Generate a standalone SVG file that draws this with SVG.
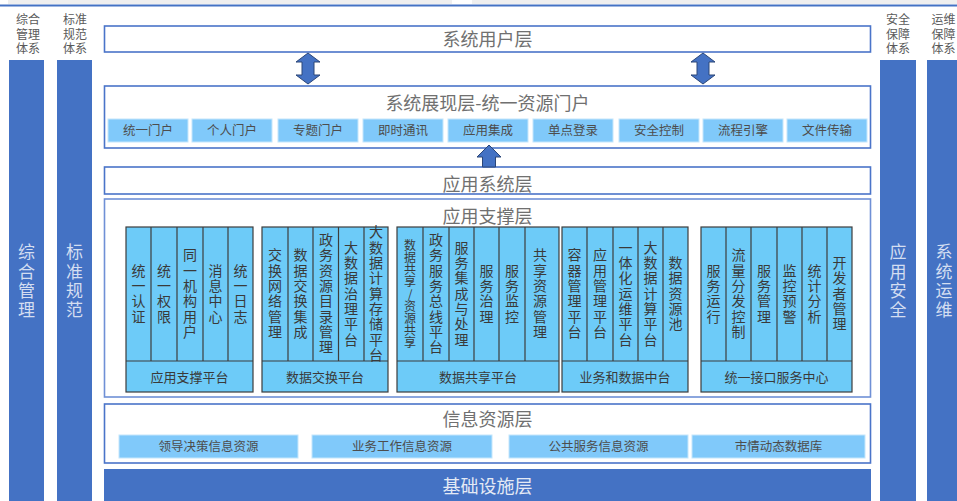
<svg xmlns="http://www.w3.org/2000/svg" width="957" height="501" viewBox="0 0 957 501">
<style>
.layer{fill:#fff;stroke:#4A74C9;stroke-width:1.6}
.pillar{fill:#4472C4}
.ptxt{font-family:"Noto Sans CJK SC","Noto Sans",sans-serif;font-size:17px;fill:#D4DEF1;text-anchor:middle;writing-mode:vertical-rl;letter-spacing:2.4px}
.hdr{font-family:"Liberation Sans","Noto Sans CJK SC",sans-serif;font-size:12px;fill:#5a5a5a;text-anchor:middle}
.title{font-family:"Noto Sans CJK SC","Noto Sans",sans-serif;font-size:18px;fill:#707070;text-anchor:middle}
.item{fill:#80C9FA;stroke:#C4E6FC;stroke-width:1}
.itxt{font-family:"Noto Sans CJK SC","Noto Sans",sans-serif;font-size:12.5px;fill:#4d4d4d;text-anchor:middle}
.grp{fill:#6DCBF8;stroke:#3d3d3d;stroke-width:1.2}
.div{stroke:#3d3d3d;stroke-width:1.2}
.ctxt{font-family:"Noto Sans CJK SC","Noto Sans",sans-serif;font-size:14px;fill:#3a3a3a;text-anchor:middle;writing-mode:vertical-rl;letter-spacing:1.3px}
.stxt{font-family:"Noto Sans CJK SC","Noto Sans",sans-serif;font-size:12px;fill:#3a3a3a;text-anchor:middle;writing-mode:vertical-rl;text-orientation:upright;letter-spacing:0.1px}
.btxt{font-family:"Noto Sans CJK SC","Noto Sans",sans-serif;font-size:13px;fill:#3a3a3a;text-anchor:middle}
.arrow{fill:#4472C4;stroke:#2B4678;stroke-width:1}
</style>
<rect x="0" y="0" width="957" height="501" fill="#fff"/>
<rect x="8" y="0" width="444" height="4" fill="#EFEFEF"/>
<rect x="472" y="0" width="485" height="4" fill="#EFEFEF"/>
<line x1="0" y1="5.5" x2="957" y2="5.5" stroke="#4472C4" stroke-width="2"/>

<g id="pillar-zhgl">
<text class="hdr" y="24"><tspan x="28">综合</tspan><tspan x="28" dy="14.7">管理</tspan><tspan x="28" dy="14.7">体系</tspan></text>
<rect class="pillar" x="9" y="60" width="35" height="441"/>
<text class="ptxt" x="26.5" y="282">综合管理</text>
</g>
<g id="pillar-bzgf">
<text class="hdr" y="24"><tspan x="75">标准</tspan><tspan x="75" dy="14.7">规范</tspan><tspan x="75" dy="14.7">体系</tspan></text>
<rect class="pillar" x="57" y="60" width="35" height="441"/>
<text class="ptxt" x="74.5" y="282">标准规范</text>
</g>
<g id="pillar-yyaq">
<text class="hdr" y="24"><tspan x="898">安全</tspan><tspan x="898" dy="14.7">保障</tspan><tspan x="898" dy="14.7">体系</tspan></text>
<rect class="pillar" x="880" y="60" width="36" height="441"/>
<text class="ptxt" x="898" y="282">应用安全</text>
</g>
<g id="pillar-xtyw">
<text class="hdr" y="24"><tspan x="943.5">运维</tspan><tspan x="943.5" dy="14.7">保障</tspan><tspan x="943.5" dy="14.7">体系</tspan></text>
<rect class="pillar" x="927" y="60" width="36" height="441"/>
<text class="ptxt" x="944" y="282">系统运维</text>
</g>

<g id="layer-user">
<rect class="layer" x="104.5" y="26" width="766" height="26"/>
<text class="title" x="487.5" y="46">系统用户层</text>
</g>

<g id="layer-portal">
<rect class="layer" x="104.5" y="86" width="766" height="62"/>
<text class="title" x="487.5" y="110">系统展现层-统一资源门户</text>
<rect class="item" x="108" y="119" width="80" height="23"/><text class="itxt" x="148" y="135">统一门户</text>
<rect class="item" x="192" y="119" width="80" height="23"/><text class="itxt" x="232" y="135">个人门户</text>
<rect class="item" x="278" y="119" width="80" height="23"/><text class="itxt" x="318" y="135">专题门户</text>
<rect class="item" x="363" y="119" width="80" height="23"/><text class="itxt" x="403" y="135">即时通讯</text>
<rect class="item" x="448" y="119" width="80" height="23"/><text class="itxt" x="488" y="135">应用集成</text>
<rect class="item" x="533" y="119" width="80" height="23"/><text class="itxt" x="573" y="135">单点登录</text>
<rect class="item" x="619" y="119" width="80" height="23"/><text class="itxt" x="659" y="135">安全控制</text>
<rect class="item" x="703" y="119" width="80" height="23"/><text class="itxt" x="743" y="135">流程引擎</text>
<rect class="item" x="787" y="119" width="80" height="23"/><text class="itxt" x="827" y="135">文件传输</text>
</g>

<g id="layer-appsys">
<rect class="layer" x="104.5" y="167" width="766" height="27"/>
<text class="title" x="487.5" y="191">应用系统层</text>
</g>

<g id="layer-support">
<rect class="layer" x="104.5" y="199" width="766" height="198" style="stroke:#6F90D6"/>
<text class="title" x="487.5" y="223">应用支撑层</text>
</g>

<g id="grp-yyzc">
<rect class="grp" x="126" y="227" width="127" height="165"/>
<line class="div" x1="126" y1="361" x2="253" y2="361"/>
<line class="div" x1="151" y1="227" x2="151" y2="361"/><line class="div" x1="177" y1="227" x2="177" y2="361"/><line class="div" x1="203" y1="227" x2="203" y2="361"/><line class="div" x1="228" y1="227" x2="228" y2="361"/>
<text class="ctxt" x="138.5" y="294">统一认证</text>
<text class="ctxt" x="164" y="294">统一权限</text>
<text class="ctxt" x="190" y="294">同一机构用户</text>
<text class="ctxt" x="215.5" y="294">消息中心</text>
<text class="ctxt" x="240.5" y="294">统一日志</text>
<text class="btxt" x="189.5" y="381.5">应用支撑平台</text>
</g>

<g id="grp-sjjh">
<rect class="grp" x="262" y="227" width="126" height="165"/>
<line class="div" x1="262" y1="361" x2="388" y2="361"/>
<line class="div" x1="288" y1="227" x2="288" y2="361"/><line class="div" x1="313" y1="227" x2="313" y2="361"/><line class="div" x1="338.5" y1="227" x2="338.5" y2="361"/><line class="div" x1="364" y1="227" x2="364" y2="361"/>
<text class="ctxt" x="275" y="294">交换网络管理</text>
<text class="ctxt" x="300.5" y="294">数据交换集成</text>
<text class="ctxt" x="326" y="294">政务资源目录管理</text>
<text class="ctxt" x="351" y="294">大数据治理平台</text>
<text class="ctxt" x="376" y="294">大数据计算存储平台</text>
<text class="btxt" x="325" y="381.5">数据交换平台</text>
</g>

<g id="grp-sjgx">
<rect class="grp" x="397" y="227" width="162" height="165"/>
<line class="div" x1="397" y1="361" x2="559" y2="361"/>
<line class="div" x1="423" y1="227" x2="423" y2="361"/><line class="div" x1="449" y1="227" x2="449" y2="361"/><line class="div" x1="474" y1="227" x2="474" y2="361"/><line class="div" x1="499" y1="227" x2="499" y2="361"/><line class="div" x1="525" y1="227" x2="525" y2="361"/>
<text class="stxt" x="410" y="294">数据共享/资源共享</text>
<text class="ctxt" x="436" y="294">政务服务总线平台</text>
<text class="ctxt" x="461.5" y="294">服务集成与处理</text>
<text class="ctxt" x="486.5" y="294">服务治理</text>
<text class="ctxt" x="512" y="294">服务监控</text>
<text class="ctxt" x="540" y="294">共享资源管理</text>
<text class="btxt" x="478" y="381.5">数据共享平台</text>
</g>

<g id="grp-ywsjzt">
<rect class="grp" x="562" y="227" width="126" height="165"/>
<line class="div" x1="562" y1="361" x2="688" y2="361"/>
<line class="div" x1="587" y1="227" x2="587" y2="361"/><line class="div" x1="613" y1="227" x2="613" y2="361"/><line class="div" x1="638" y1="227" x2="638" y2="361"/><line class="div" x1="663" y1="227" x2="663" y2="361"/>
<text class="ctxt" x="574.5" y="294">容器管理平台</text>
<text class="ctxt" x="600" y="294">应用管理平台</text>
<text class="ctxt" x="625.5" y="294">一体化运维平台</text>
<text class="ctxt" x="650.5" y="294">大数据计算平台</text>
<text class="ctxt" x="675.5" y="294">数据资源池</text>
<text class="btxt" x="625" y="381.5">业务和数据中台</text>
</g>

<g id="grp-tyjk">
<rect class="grp" x="701" y="227" width="151" height="165"/>
<line class="div" x1="701" y1="361" x2="852" y2="361"/>
<line class="div" x1="726" y1="227" x2="726" y2="361"/><line class="div" x1="751" y1="227" x2="751" y2="361"/><line class="div" x1="777" y1="227" x2="777" y2="361"/><line class="div" x1="802" y1="227" x2="802" y2="361"/><line class="div" x1="827" y1="227" x2="827" y2="361"/>
<text class="ctxt" x="713.5" y="294">服务运行</text>
<text class="ctxt" x="738.5" y="294">流量分发控制</text>
<text class="ctxt" x="764" y="294">服务管理</text>
<text class="ctxt" x="789.5" y="294">监控预警</text>
<text class="ctxt" x="814.5" y="294">统计分析</text>
<text class="ctxt" x="839.5" y="294">开发者管理</text>
<text class="btxt" x="776.5" y="381.5">统一接口服务中心</text>
</g>

<g id="layer-info">
<rect class="layer" x="104.5" y="404" width="766" height="59"/>
<text class="title" x="487.5" y="426">信息资源层</text>
<rect class="item" x="119" y="435" width="179" height="23"/><text class="itxt" x="208.5" y="451">领导决策信息资源</text>
<rect class="item" x="312" y="435" width="180" height="23"/><text class="itxt" x="402" y="451">业务工作信息资源</text>
<rect class="item" x="509" y="435" width="179" height="23"/><text class="itxt" x="598.5" y="451">公共服务信息资源</text>
<rect class="item" x="692" y="435" width="173" height="23"/><text class="itxt" x="778.5" y="451">市情动态数据库</text>
</g>

<g id="layer-infra">
<rect x="104" y="469" width="767" height="32" fill="#4472C4"/>
<text class="title" x="487.5" y="493" style="fill:#E4EAF5">基础设施层</text>
</g>

<g id="connectors">
<polygon class="arrow" points="308,53 320,62 314,62 314,75 320,75 308,84 296,75 302,75 302,62 296,62"/>
<polygon class="arrow" points="703,53 715,62 709,62 709,75 715,75 703,84 691,75 697,75 697,62 691,62"/>
<polygon class="arrow" points="489,145 501,157 495.5,157 495.5,167 482.5,167 482.5,157 477,157"/>
</g>
</svg>
